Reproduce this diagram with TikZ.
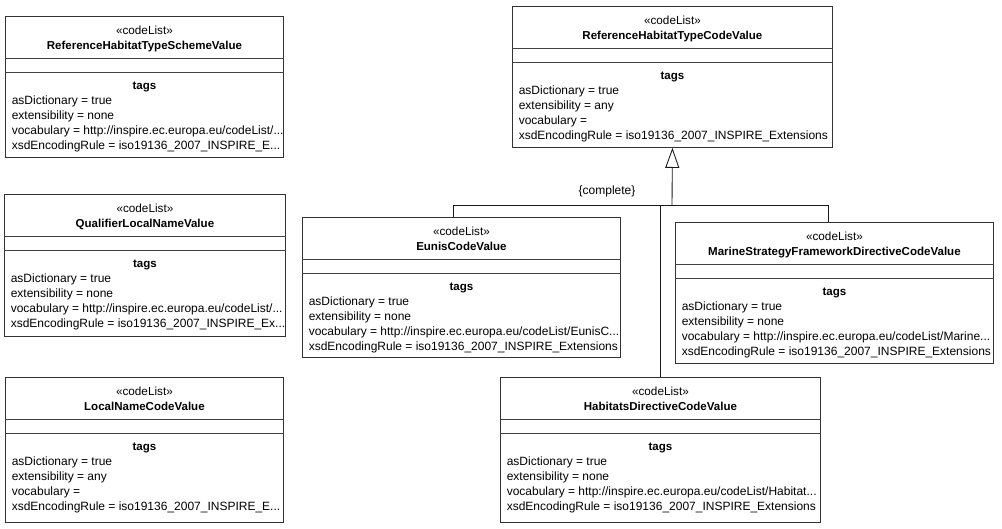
\documentclass[tikz,border=0pt]{standalone}
\usepackage{fontspec}
\setmainfont{Liberation Sans}
\usetikzlibrary{calc,arrows.meta}
\tikzset{
  classbox/.style={draw=black!80, line width=0.65pt, fill=white, inner sep=0pt},
  sepline/.style={draw=black!75, line width=0.65pt},
  stereo/.style={font=\fontsize{8.8}{10}\selectfont, inner sep=0pt, anchor=mid},
  cname/.style={font=\fontsize{8.65}{10}\selectfont\bfseries, inner sep=0pt, anchor=mid},
  tagline/.style={font=\fontsize{9}{10}\selectfont, inner sep=0pt, anchor=mid west},
  conn/.style={draw=black!90, line width=0.65pt},
  gen/.style={conn, -{Triangle[open, length=15pt, width=10.5pt]}}
}
% #1 name, #2 top-left coordinate, #3 width, #4 height, #5 class name, #6-#9 tag lines
\newcommand\umlclass[9]{%
  \node[classbox, minimum width=#3*0.75pt, minimum height=#4*0.75pt, anchor=north west] (#1) at #2 {};
  \draw[sepline] ($(#1.north west)+(0,42)$) -- ($(#1.north east)+(0,42)$);
  \draw[sepline] ($(#1.north west)+(0,56.5)$) -- ($(#1.north east)+(0,56.5)$);
  \node[stereo] (#1-st) at ($(#1.north)+(0,15)$) {«codeList»};
  \node[cname] (#1-nm) at ($(#1.north)+(0,29.5)$) {#5};
  \node[cname] (#1-tg) at ($(#1.north)+(0,70)$) {tags};
  \node[tagline] (#1-a) at ($(#1.north west)+(6.5,84.5)$) {#6};
  \node[tagline] (#1-b) at ($(#1.north west)+(6.5,99.5)$) {#7};
  \node[tagline] (#1-c) at ($(#1.north west)+(6.5,114.5)$) {#8};
  \node[tagline] (#1-d) at ($(#1.north west)+(6.5,129.5)$) {#9};
}
\begin{document}
\begin{tikzpicture}[x=0.75pt, y=-0.75pt]
\useasboundingbox (0,0) rectangle (1002,528);

\umlclass{scheme}{(5,16)}{278}{141}{ReferenceHabitatTypeSchemeValue}
  {asDictionary = true}{extensibility = none}
  {vocabulary = http://inspire.ec.europa.eu/codeList/...}
  {xsdEncodingRule = iso19136\_2007\_INSPIRE\_E...}

\umlclass{qualifier}{(4,194)}{281}{142}{QualifierLocalNameValue}
  {asDictionary = true}{extensibility = none}
  {vocabulary = http://inspire.ec.europa.eu/codeList/...}
  {xsdEncodingRule = iso19136\_2007\_INSPIRE\_Ex...}

\umlclass{localname}{(5,377)}{278}{145}{LocalNameCodeValue}
  {asDictionary = true}{extensibility = any}
  {vocabulary = }
  {xsdEncodingRule = iso19136\_2007\_INSPIRE\_E...}

\umlclass{top}{(512,6)}{320}{141}{ReferenceHabitatTypeCodeValue}
  {asDictionary = true}{extensibility = any}
  {vocabulary = }
  {xsdEncodingRule = iso19136\_2007\_INSPIRE\_Extensions}

\umlclass{eunis}{(302,217)}{318}{140}{EunisCodeValue}
  {asDictionary = true}{extensibility = none}
  {vocabulary = http://inspire.ec.europa.eu/codeList/EunisC...}
  {xsdEncodingRule = iso19136\_2007\_INSPIRE\_Extensions}

\umlclass{marine}{(675,222)}{318}{141}{MarineStrategyFrameworkDirectiveCodeValue}
  {asDictionary = true}{extensibility = none}
  {vocabulary = http://inspire.ec.europa.eu/codeList/Marine...}
  {xsdEncodingRule = iso19136\_2007\_INSPIRE\_Extensions}

\umlclass{habitats}{(500,377)}{320}{145}{HabitatsDirectiveCodeValue}
  {asDictionary = true}{extensibility = none}
  {vocabulary = http://inspire.ec.europa.eu/codeList/Habitat...}
  {xsdEncodingRule = iso19136\_2007\_INSPIRE\_Extensions}

% generalization set
\coordinate (j) at (672,205);
\coordinate (je) at (453,205);
\coordinate (jm) at (828,205);
\draw[conn] (je) -- (jm);
\draw[conn] (je) -- (je |- eunis.north);
\draw[conn] (jm) -- (jm |- marine.north);
\draw[conn] (habitats.north |- j) -- (habitats.north);
\draw[gen] (j) -- (top.south);
\node[font=\fontsize{9}{10}\selectfont, inner sep=0pt] (complete) at (607,191) {\{complete\}};
\end{tikzpicture}
\end{document}
